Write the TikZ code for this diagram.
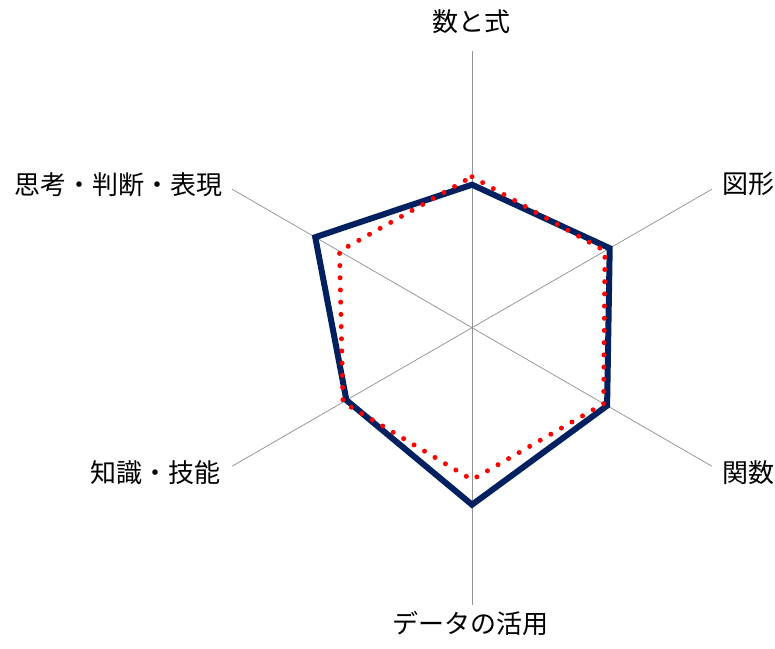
\documentclass[tikz,border=0pt]{standalone}
\usepackage{fontspec}
\setmainfont{Noto Sans CJK JP}
\usetikzlibrary{positioning,calc}
\definecolor{navy}{HTML}{002060}

\begin{document}
\begin{tikzpicture}[x=1pt,y=1pt,
  axisline/.style={gray!85,line width=0.75pt},
  lab/.style={inner sep=0pt,font=\fontsize{26}{30}\selectfont},
  scoreA/.style={navy,line width=6pt,line join=miter},
  scoreB/.style={red,line width=5pt,line cap=round,dash pattern=on 0pt off 12.2pt}]
\useasboundingbox (0,0) rectangle (775,648);
\coordinate (o) at (472,320.3);
\foreach \a in {90,30,-30,-90,-150,150}
  \draw[axisline] (o) -- +(\a:277);
\node[lab] (suushiki) at (471.5,626) {数と式};
\node[lab,anchor=west] (zukei) at (722,464) {図形};
\node[lab,anchor=west] (kansuu) at (722,175) {関数};
\node[lab] (data) at (470.5,24) {データの活用};
\node[lab,anchor=east] (chishiki) at (221,175) {知識・技能};
\node[lab,anchor=east] (shikou) at (223,463) {思考・判断・表現};
\draw[scoreA] ($(o)+(90:143)$) -- ($(o)+(30:159)$) -- ($(o)+(-30:156)$)
  -- ($(o)+(-90:177)$) -- ($(o)+(-150:145)$) -- ($(o)+(150:181)$) -- cycle;
\draw[scoreB] ($(o)+(90:151)$) -- ($(o)+(30:153.5)$) -- ($(o)+(-30:152)$)
  -- ($(o)+(-90:152)$) -- ($(o)+(-150:149)$) -- ($(o)+(150:153)$) -- cycle;
\end{tikzpicture}
\end{document}
